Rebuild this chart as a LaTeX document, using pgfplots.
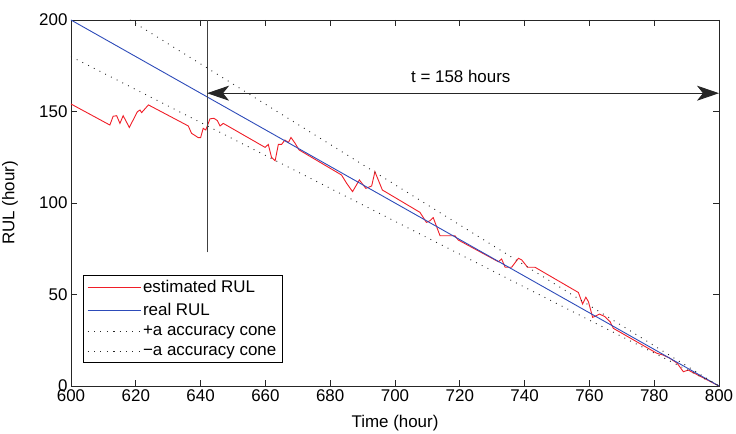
\documentclass[border=0pt]{standalone}
\usepackage{fontspec}
\setmainfont{Liberation Sans}
\usepackage{pgfplots}
\pgfplotsset{compat=1.18}
\usetikzlibrary{arrows.meta}
\definecolor{estred}{RGB}{240,30,40}
\definecolor{realblue}{RGB}{45,75,185}
\definecolor{conegray}{RGB}{40,40,40}
\pgfplotstableread{
t v
600 154.1
612 142.6
613 147.4
614.1 147.7
615.1 143.5
616.1 147.7
618 141.3
620.5 149.9
621.3 150.8
621.8 149.4
623.9 153.6
636.2 142.1
637.2 138.1
639.3 135.7
640 135.7
640.8 140.8
641.6 139.9
642.9 146
644.1 146.3
645.2 145
646 142.1
647 143.5
659.9 130.4
660.9 132
661.9 124.9
663 123.1
664 132
665 132
666 134.4
667.1 133.1
667.9 135.8
669.1 132.8
670.4 129
683.5 115.3
685.1 110.7
686.9 106.2
689 112.6
691 108
692.8 109.3
693.8 117.1
696.1 107.1
707.7 94.9
709.7 89.4
710.8 90.3
711.8 92
713.9 82.1
718.5 82.1
719.5 79.8
731.9 67.9
732.9 69.4
734 64.9
736 64.9
738.1 69.8
739.1 68.9
740.9 64.9
743.2 64.9
756.6 51.1
757.9 44.8
758.9 48.5
759.7 46.1
761 37.5
762 38.3
763.1 39.3
764.8 37.9
766.4 35.1
767.4 31.5
780.8 17.9
782.8 16.9
784.9 15.1
787.1 12.4
789 7.8
790.5 8.7
800 0
}\estrul
\pgfplotstableread{
t v
600 200
800 0
}\realrul
\pgfplotstableread{
t v
618.18 200
800 0
}\upcone
\pgfplotstableread{
t v
600 180
800 0
}\lowcone
\newcommand{\ff}{\fontsize{17}{20}\selectfont}
\begin{document}
\begin{tikzpicture}
\begin{axis}[
  at={(0,0)}, anchor=south west,
  scale only axis,
  width=648bp, height=366bp,
  xmin=600, xmax=800, ymin=0, ymax=200,
  xtick={600,620,...,800},
  ytick={0,50,...,200},
  tick align=inside,
  major tick length=6bp,
  axis line style={line width=0.9bp, black!85},
  every tick/.style={line width=0.8bp, black!85},
  /pgf/number format/assume math mode=true,
  /pgf/number format/1000 sep={},
  tick label style={font=\ff},
  xlabel={Time (hour)},
  ylabel={RUL (hour)},
  every axis x label/.style={at={(axis description cs:0.5,-0.1011)}, anchor=center, font=\ff},
  every axis y label/.style={at={(axis description cs:-0.0941,0.5)}, rotate=90, anchor=center, font=\ff},
  legend style={font=\ff, at={(rel axis cs:0.0185,0.0656)}, anchor=south west,
    inner xsep=4bp, inner ysep=3bp,
    row sep=5bp, cells={anchor=west}},
  legend image code/.code={\draw[mark repeat=2,mark phase=2,#1] plot coordinates {(0bp,0bp) (26bp,0bp) (53bp,0bp)};},
  clip=true,
]
\addplot[color=estred, line width=0.9bp] table[x=t,y=v] {\estrul};
\addlegendentry{estimated RUL}
\addplot[color=realblue, line width=0.9bp] table[x=t,y=v] {\realrul};
\addlegendentry{real RUL}
\addplot[color=conegray, line width=0.9bp, dash pattern=on 0.9bp off 5.5bp] table[x=t,y=v] {\upcone};
\addlegendentry{+a accuracy cone}
\addplot[color=conegray, line width=0.9bp, dash pattern=on 0.9bp off 5.5bp] table[x=t,y=v] {\lowcone};
\addlegendentry{−a accuracy cone}
\draw[black!75, line width=0.9bp] (axis cs:642,73) -- (axis cs:642,200);
\draw[black!85, line width=0.9bp, {Stealth[length=22bp,width=15bp,inset=6bp]}-{Stealth[length=22bp,width=15bp,inset=6bp]}] (axis cs:642,160) -- (axis cs:800,160);
\node[font=\ff, inner sep=0pt] at (axis cs:720.3,169) {t = 158 hours};
\end{axis}
\pgfresetboundingbox
\path (-71bp,-48bp) rectangle (665bp,386bp);
\end{tikzpicture}
\end{document}
